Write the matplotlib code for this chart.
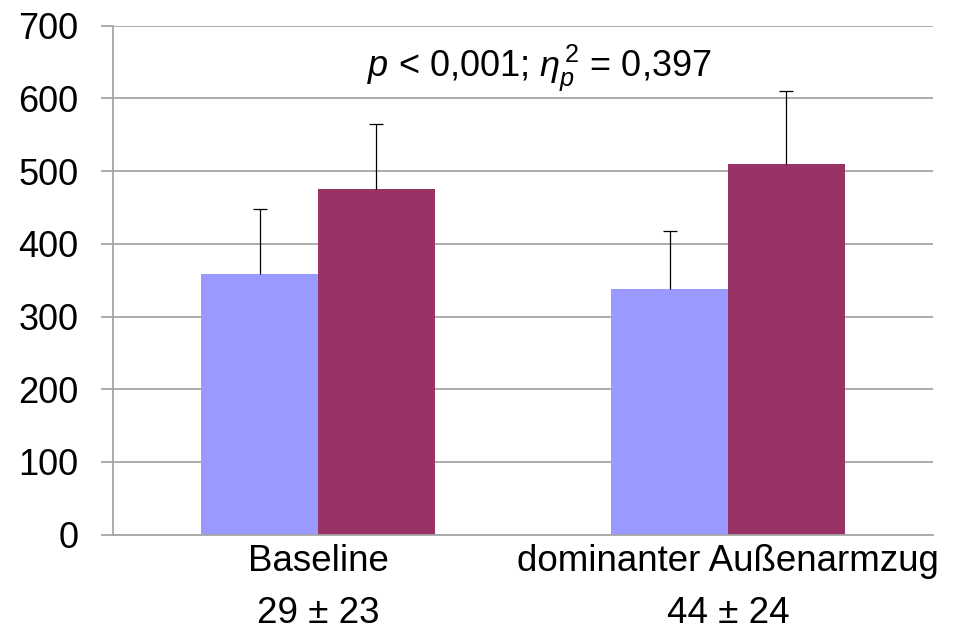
import matplotlib
matplotlib.use("Agg")
import matplotlib.pyplot as plt
import numpy as np

# ── Data ──────────────────────────────────────────────────────────────────────
CATEGORIES = ["Baseline", "dominanter Außenarmzug"]
SUBLABELS = ["29 ± 23", "44 ± 24"]
SERIES_A = [359, 338]       # light blue bars
SERIES_A_ERR = [89, 79]
SERIES_B = [475, 510]       # purple bars
SERIES_B_ERR = [90, 100]
Y_TICKS = [0, 100, 200, 300, 400, 500, 600, 700]
STATS_TEXT = r"$p$ < 0,001; $\eta_p^{\,2}$ = 0,397"

# ── Style ─────────────────────────────────────────────────────────────────────
plt.rcParams["font.family"] = ["Liberation Sans", "DejaVu Sans"]
plt.rcParams["mathtext.fontset"] = "custom"
plt.rcParams["mathtext.rm"] = "Liberation Sans"
plt.rcParams["mathtext.it"] = "Liberation Sans:italic"

GRID = "#A6A6A6"
COLOR_A = "#9999FF"
COLOR_B = "#993366"

fig = plt.figure(figsize=(9.55, 6.3), dpi=100)
ax = fig.add_axes([0.1183, 0.1513, 0.977 - 0.1183, 0.9592 - 0.1513])

x = np.arange(len(CATEGORIES))
w = 0.285

ax.bar(x - w / 2, SERIES_A, width=w, color=COLOR_A, zorder=2)
ax.bar(x + w / 2, SERIES_B, width=w, color=COLOR_B, zorder=2)
for xpos, vals, errs in [(x - w / 2, SERIES_A, SERIES_A_ERR),
                         (x + w / 2, SERIES_B, SERIES_B_ERR)]:
    eb = ax.errorbar(xpos, vals, yerr=[np.zeros(len(x)), errs],
                     fmt="none", ecolor="black", elinewidth=0.9, capsize=5,
                     capthick=0.9, zorder=3)
    eb[1][0].set_visible(False)   # hide the cap at the bar top

ax.set_xlim(-0.5, 1.5)
ax.set_ylim(0, 700)
ax.set_yticks(Y_TICKS)
ax.yaxis.grid(True, color=GRID, linewidth=1.3, zorder=0)
ax.set_axisbelow(True)

for s in ["top", "right"]:
    ax.spines[s].set_visible(False)
for s in ["left", "bottom"]:
    ax.spines[s].set_color(GRID)
    ax.spines[s].set_linewidth(1.3)

ax.tick_params(axis="y", length=9, width=1.3, color=GRID, pad=16, labelsize=26)
ax.tick_params(axis="x", length=0, pad=7, labelsize=26.5)
ax.set_xticks(x)
ax.set_xticklabels([f"{c}\n{s}" for c, s in zip(CATEGORIES, SUBLABELS)],
                   linespacing=1.6)

ax.text(0.54, 642, STATS_TEXT, ha="center", va="center", fontsize=26)

fig.savefig("out.png", dpi=100)
